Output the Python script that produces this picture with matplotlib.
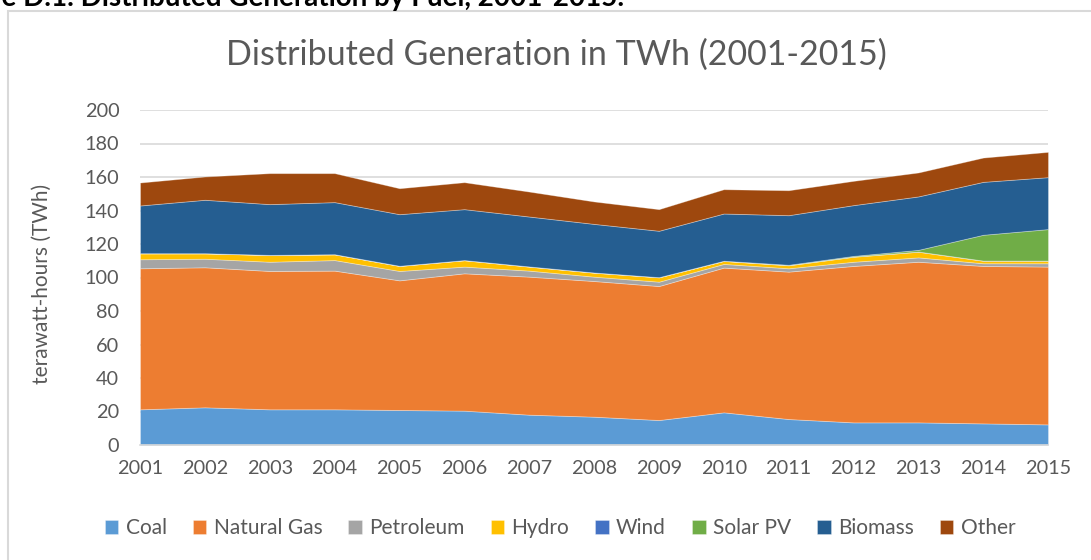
import matplotlib
matplotlib.use("Agg")
import matplotlib.pyplot as plt
from matplotlib.patches import Rectangle
import numpy as np

years = list(range(2001, 2016))
categories = ["Coal", "Natural Gas", "Petroleum", "Hydro", "Wind", "Solar PV", "Biomass", "Other"]
coal = [21.3, 22.5, 21.3, 21.3, 20.9, 20.5, 18.1, 16.9, 14.9, 19.5, 15.5, 13.5, 13.5, 12.9, 12.3]
natural_gas = [84.2, 83.6, 82.6, 82.8, 77.4, 82.0, 82.4, 81.0, 80.0, 86.4, 88.0, 93.4, 95.9, 94.0, 94.2]
petroleum = [5.4, 5.1, 5.5, 6.3, 5.6, 4.0, 3.6, 2.6, 2.6, 2.2, 2.0, 2.5, 2.6, 1.6, 2.0]
hydro = [3.5, 3.2, 4.0, 3.4, 3.0, 3.8, 2.4, 2.4, 2.6, 1.8, 1.8, 3.0, 3.4, 1.5, 1.5]
wind = [0.1, 0.1, 0.1, 0.1, 0.1, 0.1, 0.1, 0.1, 0.1, 0.1, 0.1, 0.1, 0.1, 0.1, 0.1]
solar_pv = [0.0, 0.0, 0.0, 0.0, 0.0, 0.0, 0.0, 0.0, 0.0, 0.0, 0.2, 0.4, 1.0, 15.4, 18.8]
biomass = [28.5, 31.9, 30.3, 31.1, 30.8, 30.4, 29.8, 29.0, 27.7, 28.2, 29.6, 30.3, 31.9, 31.6, 31.0]
other = [13.7, 13.9, 18.5, 17.3, 15.5, 16.1, 14.9, 13.4, 12.9, 14.5, 14.9, 14.5, 14.3, 14.5, 15.1]
y_ticks = [0, 20, 40, 60, 80, 100, 120, 140, 160, 180, 200]

colors = ["#5B9BD5", "#ED7D31", "#A5A5A5", "#FFC000", "#4472C4", "#70AD47", "#255E91", "#9E480E"]
series = [coal, natural_gas, petroleum, hydro, wind, solar_pv, biomass, other]

plt.rcParams['font.family'] = ['Lato', 'DejaVu Sans']
txt = "#595959"

fig = plt.figure(figsize=(10.91, 5.60), dpi=100)
# chart border
fig.patches.append(Rectangle((8/1091, -0.1), 1.2, 1 - 11/560 + 0.1, transform=fig.transFigure,
                             fill=False, edgecolor="#D9D9D9", linewidth=1.5))
fig.text(-0.057, 1 - 6/560, "Figure D.1. Distributed Generation by Fuel, 2001-2015.",
         ha="left", va="baseline", fontsize=20, fontweight="bold", color="black")

ax = fig.add_axes([140/1091, 1 - 445/560, 908/1091, 335/560])
ax.stackplot(years, *series, colors=colors, labels=categories,
             edgecolor=(1, 1, 1, 0.35), linewidth=0.6)
ax.set_xlim(2001, 2015)
ax.set_ylim(0, 200)
ax.set_yticks(y_ticks)
ax.set_xticks(years)
ax.grid(axis="y", color="#D9D9D9", linewidth=1.2)
ax.set_axisbelow(True)
for s in ["top", "right", "left"]:
    ax.spines[s].set_visible(False)
ax.spines["bottom"].set_color("#D9D9D9")
ax.spines["bottom"].set_linewidth(1.2)
ax.spines["bottom"].set_zorder(5)
ax.tick_params(axis="both", length=0, labelsize=14.3, colors=txt)
ax.tick_params(axis="y", pad=15)
ax.tick_params(axis="x", pad=11)
ax.set_ylabel("terawatt-hours (TWh)", fontsize=15, color=txt)
ax.yaxis.set_label_coords(-88/908, 0.48)

fig.text(556/1091, 1 - 55/560, "Distributed Generation in TWh (2001-2015)",
         ha="center", va="center", fontsize=24.5, color=txt)

handles, labels = ax.get_legend_handles_labels()
fig.legend(handles, labels, loc="center", bbox_to_anchor=(560/1091, 1 - 528/560), ncol=8,
           frameon=False, fontsize=15, handlelength=0.65, handleheight=0.65,
           handletextpad=0.35, columnspacing=1.25, labelcolor=txt)

fig.savefig("out.png", dpi=100)
